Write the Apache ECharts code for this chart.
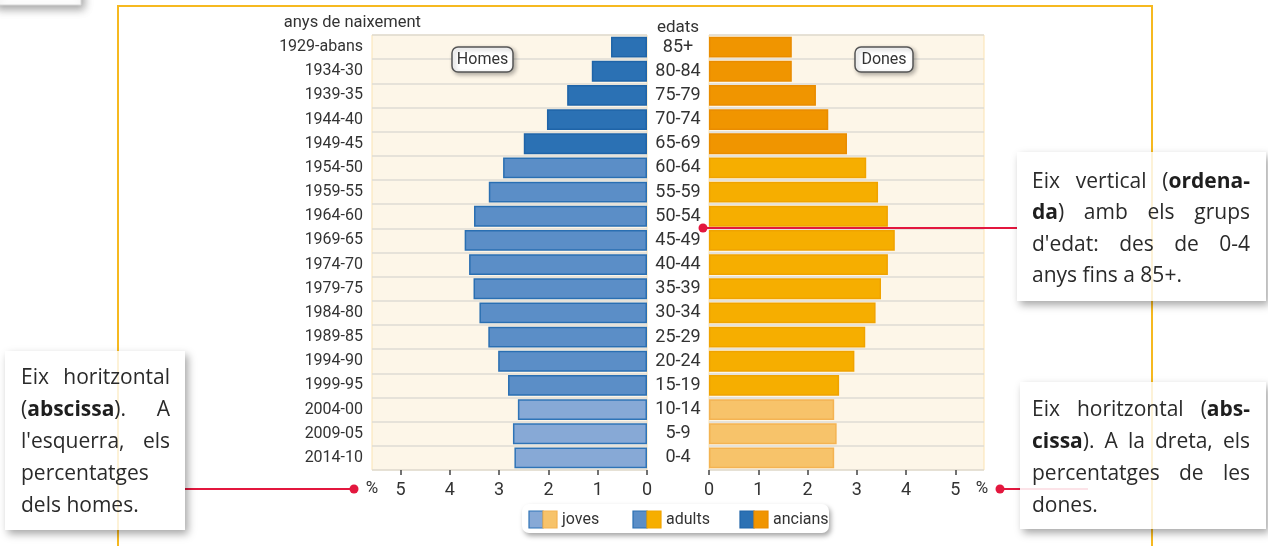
<!DOCTYPE html>
<html>
<head>
<meta charset="utf-8">
<script src="https://cdn.jsdelivr.net/npm/echarts@6/dist/echarts.min.js"></script>
<style>
html,body{margin:0;padding:0;background:#fff;}
#c{width:1268px;height:546px;}
</style>
</head>
<body>
<div id="c"></div>
<script>
// ---------------- DATA ----------------
const ages = ['85+','80-84','75-79','70-74','65-69','60-64','55-59','50-54','45-49','40-44','35-39','30-34','25-29','20-24','15-19','10-14','5-9','0-4'];
const births = ['1929-abans','1934-30','1939-35','1944-40','1949-45','1954-50','1959-55','1964-60','1969-65','1974-70','1979-75','1984-80','1989-85','1994-90','1999-95','2004-00','2009-05','2014-10'];
const homes = [0.73,1.12,1.62,2.03,2.50,2.92,3.21,3.51,3.70,3.61,3.52,3.40,3.22,3.02,2.82,2.62,2.72,2.69];
const dones = [1.68,1.68,2.17,2.42,2.80,3.19,3.43,3.63,3.77,3.63,3.49,3.38,3.17,2.95,2.64,2.54,2.59,2.54];
const groups = ['ancians','ancians','ancians','ancians','ancians','adults','adults','adults','adults','adults','adults','adults','adults','adults','adults','joves','joves','joves'];
const legendNames = ['joves','adults','ancians'];
const tickValues = [0,1,2,3,4,5];
const sideLabels = ['Homes','Dones'];
const axisTitles = ['anys de naixement','edats','%'];

// ---------------- STYLE ----------------
const menFill = {joves:'#87a9d6', adults:'#5b8ec7', ancians:'#2b71b4'};
const menLine = {joves:'#2f74b7', adults:'#2a6fb2', ancians:'#1f64a8'};
const womFill = {joves:'#f7c36a', adults:'#f6ae00', ancians:'#f09500'};
const womLine = {joves:'#f4b352', adults:'#f0a300', ancians:'#e98c00'};
const LBL = 'Roboto,"Noto Sans",sans-serif';
const ANN = '"Open Sans","Noto Sans",sans-serif';
const RED = '#e3173e';
const TXT = '#333333';

const chart = echarts.init(document.getElementById('c'), null, {renderer:'canvas'});

function barData(vals, fill, line){
  return vals.map((v,i)=>({value:v, itemStyle:{color:fill[groups[i]], borderColor:line[groups[i]], borderWidth:1.5}}));
}

// text measuring for justified annotation boxes
const mctx = document.createElement('canvas').getContext('2d');
function parse(word){ const out=[]; let b=false; word.split('**').forEach((p,i)=>{ if(i>0) b=!b; if(p) out.push({t:p,b:b}); }); return out; }
function measure(segs,size){ let w=0; segs.forEach(s=>{ mctx.font=(s.b?'bold ':'')+size+'px '+ANN; w+=mctx.measureText(s.t).width; }); return w; }
function buildNote(lines,x0,y0,lh,width,maxSize){
  let size=maxSize;
  const fits=s=>lines.every(ln=>{ const ws=ln.split(' '); const tot=ws.reduce((a,w)=>a+measure(parse(w),s),0); return tot+(ws.length-1)*s*0.22<=width; });
  while(size>13 && !fits(size)) size-=0.5;
  const els=[];
  lines.forEach((ln,i)=>{
    const ws=ln.split(' ').map(parse);
    const wsW=ws.map(w=>measure(w,size));
    const tot=wsW.reduce((a,b)=>a+b,0);
    const last=(i===lines.length-1);
    let gap;
    if(!last && ws.length>1) gap=(width-tot)/(ws.length-1);
    else { mctx.font=size+'px '+ANN; gap=mctx.measureText(' ').width; }
    let x=x0;
    ws.forEach((w,j)=>{
      els.push({type:'text', z:20, silent:true, style:{
        x:x, y:y0+i*lh, text:w.map(s=>s.b?('{b|'+s.t+'}'):s.t).join(''),
        fontSize:size, fontFamily:ANN, fill:'#2a2a2a', textAlign:'left', align:'left', textVerticalAlign:'middle', verticalAlign:'middle',
        rich:{b:{fontWeight:'bold', fontSize:size, fontFamily:ANN, fill:'#1e1e1e'}}
      }});
      x+=wsW[j]+gap;
    });
  });
  return els;
}

const noteA = ['Eix vertical (**ordena-**','**da**) amb els grups',"d'edat: des de 0-4",'anys fins a 85+.'];
const noteB = ['Eix horitzontal','(**abscissa**). A',"l'esquerra, els",'percentatges','dels homes.'];
const noteC = ['Eix horitzontal (**abs-**','**cissa**). A la dreta, els','percentatges de les','dones.'];

const shadowBox = {fill:'#ffffff', shadowBlur:8, shadowColor:'rgba(0,0,0,0.35)', shadowOffsetX:3, shadowOffsetY:4};

const graphics = [
  {type:'rect', z:5, silent:true, shape:{x:-6,y:-12,width:87,height:17}, style:Object.assign({}, shadowBox, {stroke:'#d8d8d8', lineWidth:1})},
  {type:'rect', z:0, silent:true, shape:{x:118,y:6,width:1034,height:620}, style:{fill:'none', stroke:'#f6b920', lineWidth:2}},
  {type:'text', z:5, style:{x:421,y:23,text:axisTitles[0],fontSize:16.5,fontFamily:LBL,fill:TXT,textAlign:'right',align:'right',textVerticalAlign:'middle',verticalAlign:'middle'}},
  {type:'text', z:5, style:{x:678,y:28,text:axisTitles[1],fontSize:17,fontFamily:LBL,fill:TXT,textAlign:'center',align:'center',textVerticalAlign:'middle',verticalAlign:'middle'}},
  {type:'text', z:5, style:{x:372,y:489,text:axisTitles[2],fontSize:17,fontFamily:LBL,fill:TXT,textAlign:'center',align:'center',textVerticalAlign:'middle',verticalAlign:'middle'}},
  {type:'text', z:5, style:{x:982,y:489,text:axisTitles[2],fontSize:17,fontFamily:LBL,fill:TXT,textAlign:'center',align:'center',textVerticalAlign:'middle',verticalAlign:'middle'}},
  {type:'rect', z:6, shape:{x:452,y:47,width:61,height:25,r:6}, style:Object.assign({}, shadowBox, {stroke:'#555', lineWidth:1.5, shadowBlur:4, shadowOffsetX:2, shadowOffsetY:2, shadowColor:'rgba(0,0,0,0.3)'})},
  {type:'text', z:7, style:{x:482.5,y:60,text:sideLabels[0],fontSize:16,fontFamily:LBL,fill:TXT,textAlign:'center',align:'center',textVerticalAlign:'middle',verticalAlign:'middle'}},
  {type:'rect', z:6, shape:{x:855,y:47,width:58,height:25,r:6}, style:Object.assign({}, shadowBox, {stroke:'#555', lineWidth:1.5, shadowBlur:4, shadowOffsetX:2, shadowOffsetY:2, shadowColor:'rgba(0,0,0,0.3)'})},
  {type:'text', z:7, style:{x:884,y:60,text:sideLabels[1],fontSize:16,fontFamily:LBL,fill:TXT,textAlign:'center',align:'center',textVerticalAlign:'middle',verticalAlign:'middle'}},
  {type:'line', z:15, shape:{x1:703,y1:228,x2:1018,y2:228}, style:{stroke:RED, lineWidth:2}},
  {type:'circle', z:15, shape:{cx:703,cy:228,r:4.5}, style:{fill:RED}},
  {type:'line', z:15, shape:{x1:184,y1:489,x2:354,y2:489}, style:{stroke:RED, lineWidth:2}},
  {type:'circle', z:15, shape:{cx:354,cy:489,r:4.5}, style:{fill:RED}},
  {type:'line', z:15, shape:{x1:1000,y1:489,x2:1021,y2:489}, style:{stroke:RED, lineWidth:2}},
  {type:'circle', z:15, shape:{cx:1000,cy:489,r:4.5}, style:{fill:RED}},
  {type:'rect', z:18, silent:true, shape:{x:1017,y:152,width:249,height:149}, style:shadowBox},
  {type:'rect', z:18, silent:true, shape:{x:5,y:351,width:180,height:179}, style:shadowBox},
  {type:'rect', z:18, silent:true, shape:{x:1020,y:382,width:246,height:147}, style:shadowBox},
  {type:'line', z:19, silent:true, shape:{x1:1152,y1:152,x2:1152,y2:301}, style:{stroke:'#f6b920', lineWidth:2, opacity:0.18}},
  {type:'line', z:19, silent:true, shape:{x1:1152,y1:382,x2:1152,y2:529}, style:{stroke:'#f6b920', lineWidth:2, opacity:0.18}},
  {type:'line', z:19, silent:true, shape:{x1:118,y1:351,x2:118,y2:530}, style:{stroke:'#f6b920', lineWidth:2, opacity:0.18}},
  {type:'line', z:19, silent:true, shape:{x1:1020,y1:489,x2:1088,y2:489}, style:{stroke:RED, lineWidth:2, opacity:0.12}},
  {type:'rect', z:8, shape:{x:522,y:504,width:307,height:29,r:7}, style:Object.assign({}, shadowBox, {shadowBlur:5, shadowOffsetX:2, shadowOffsetY:3})}
];

const legX = [529, 633, 740];
legendNames.forEach((g,i)=>{
  const x=legX[i];
  graphics.push({type:'rect', z:9, shape:{x:x,y:511,width:14,height:17}, style:{fill:menFill[g], stroke:menLine[g], lineWidth:1.2}});
  graphics.push({type:'rect', z:9, shape:{x:x+14,y:511,width:14,height:17}, style:{fill:womFill[g], stroke:womLine[g], lineWidth:1.2}});
  graphics.push({type:'text', z:9, style:{x:x+33,y:520,text:g,fontSize:16,fontFamily:LBL,fill:TXT,textAlign:'left',align:'left',textVerticalAlign:'middle',verticalAlign:'middle'}});
});

Array.prototype.push.apply(graphics, buildNote(noteA, 1032, 182, 31.5, 218, 21));
Array.prototype.push.apply(graphics, buildNote(noteB, 21, 378, 32, 149, 21));
Array.prototype.push.apply(graphics, buildNote(noteC, 1032, 410, 32, 218, 21));

const xCommon = (idx, inv) => ({
  gridIndex:idx, type:'value', inverse:inv, min:0, max:5.58, interval:1,
  axisLine:{show:false}, splitLine:{show:false},
  axisTick:{show:true, length:5, customValues:tickValues, lineStyle:{color:'#444', width:1.5}},
  axisLabel:{customValues:tickValues, margin:11, fontSize:18, color:TXT, fontFamily:LBL}
});

const option = {
  animation:false,
  backgroundColor:'#ffffff',
  grid:[
    {left:372, top:35, width:275, height:435, show:true, backgroundColor:'#fdf6e8', borderColor:'#fbe3b2', borderWidth:1, outerBoundsMode:'none'},
    {left:709, top:35, width:275, height:435, show:true, backgroundColor:'#fdf6e8', borderColor:'#fbe3b2', borderWidth:1, outerBoundsMode:'none'}
  ],
  xAxis:[ xCommon(0,true), xCommon(1,false) ],
  yAxis:[
    {gridIndex:0, type:'category', data:births, inverse:true, position:'left',
     axisLine:{show:false}, axisTick:{show:false},
     axisLabel:{interval:0, margin:9, fontSize:16, color:TXT, fontFamily:LBL, hideOverlap:false},
     splitLine:{show:true, interval:0, lineStyle:{color:'#dedbd4', width:1.5}}},
    {gridIndex:0, type:'category', data:ages, inverse:true, position:'right',
     axisLine:{show:false}, axisTick:{show:false},
     axisLabel:{interval:0, margin:31, align:'center', fontSize:18, color:TXT, fontFamily:LBL, hideOverlap:false},
     splitLine:{show:false}},
    {gridIndex:1, type:'category', data:ages, inverse:true, position:'left',
     axisLine:{show:false}, axisTick:{show:false}, axisLabel:{show:false},
     splitLine:{show:true, interval:0, lineStyle:{color:'#dedbd4', width:1.5}}}
  ],
  series:[
    {name:'Homes', type:'bar', xAxisIndex:0, yAxisIndex:0, barCategoryGap:'14%', silent:true, data:barData(homes, menFill, menLine)},
    {name:'Dones', type:'bar', xAxisIndex:1, yAxisIndex:2, barCategoryGap:'14%', silent:true, data:barData(dones, womFill, womLine)}
  ],
  graphic:{elements:graphics}
};
chart.setOption(option);
</script>
</body>
</html>
